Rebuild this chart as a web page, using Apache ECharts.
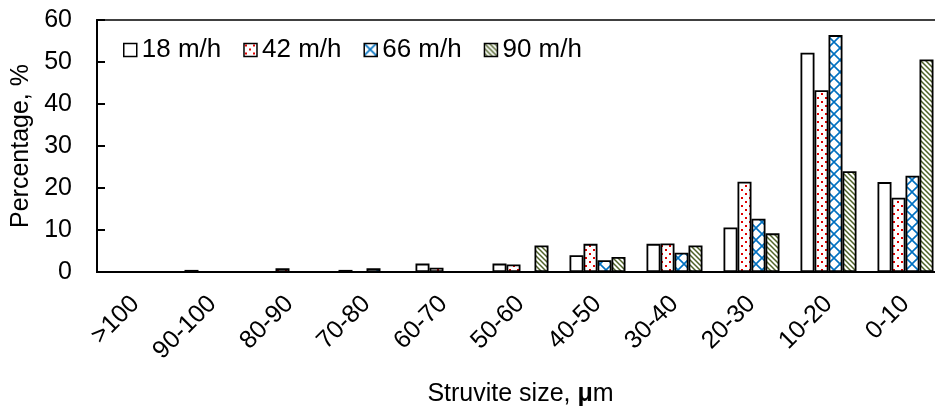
<!DOCTYPE html>
<html>
<head>
<meta charset="utf-8">
<script src="https://cdn.jsdelivr.net/npm/echarts@6/dist/echarts.min.js"></script>
<style>
  html, body { margin: 0; padding: 0; background: #fff; }
  #chart { width: 935px; height: 411px; }
</style>
</head>
<body>
<div id="chart"></div>
<script>
// Size classes of struvite crystals, coarse to fine
const categories = ['>100', '90-100', '80-90', '70-80', '60-70', '50-60', '40-50', '30-40', '20-30', '10-20', '0-10'];

// Percentage of crystals per size class at each upflow velocity
const seriesNames = ['18 m/h', '42 m/h', '66 m/h', '90 m/h'];
const v18 = [0, 0.5, 0, 0.5, 2.0, 2.0, 4.0, 6.7, 10.6, 52.2, 21.4];
const v42 = [0, 0, 0.9, 0, 1.0, 1.8, 6.7, 6.8, 21.5, 43.3, 17.7];
const v66 = [0, 0, 0, 0.9, 0, 0, 2.8, 4.6, 12.7, 56.4, 22.9];
const v90 = [0, 0, 0, 0, 0, 6.3, 3.6, 6.3, 9.2, 24.0, 50.6];

const yTicks = [0, 10, 20, 30, 40, 50, 60];

const FONT = '"Liberation Sans", Arial, sans-serif';

// Small repeating tiles used as hatch fills
function tile(size, draw) {
  const c = document.createElement('canvas');
  c.width = size; c.height = size;
  const g = c.getContext('2d');
  g.fillStyle = '#fff';
  g.fillRect(0, 0, size, size);
  draw(g, size);
  return { image: c, repeat: 'repeat' };
}

const dotFill = tile(8, (g) => {
  g.fillStyle = '#e00000';
  g.fillRect(1, 1, 2, 2);
  g.fillRect(5, 5, 2, 2);
});

const latticeFill = tile(12, (g, s) => {
  g.strokeStyle = '#0070c0';
  g.lineWidth = 1.6;
  g.beginPath();
  g.moveTo(0, 0); g.lineTo(s, s);
  g.moveTo(s, 0); g.lineTo(0, s);
  g.stroke();
});

const stripeFill = tile(5, (g, s) => {
  g.strokeStyle = '#4f6228';
  g.lineWidth = 1.5;
  g.beginPath();
  g.moveTo(-1, -1); g.lineTo(s + 1, s + 1);
  g.moveTo(-1, s - 1); g.lineTo(1, s + 1);
  g.moveTo(s - 1, -1); g.lineTo(s + 1, 1);
  g.stroke();
});

const fills = ['#ffffff', dotFill, latticeFill, stripeFill];
const values = [v18, v42, v66, v90];

const chart = echarts.init(document.getElementById('chart'), null, { renderer: 'canvas' });

chart.setOption({
  animation: false,
  backgroundColor: '#ffffff',
  textStyle: { fontFamily: FONT, color: '#000' },
  legend: {
    data: seriesNames,
    left: 118,
    top: 32,
    itemWidth: 13,
    itemHeight: 13,
    itemGap: 22,
    icon: 'rect',
    textStyle: { fontFamily: FONT, fontSize: 26, color: '#000' },
    itemStyle: { borderColor: '#000', borderWidth: 1.5 }
  },
  grid: {
    left: 97,
    right: -9,
    top: 20,
    bottom: 139,
    show: true,
    borderColor: '#404040',
    borderWidth: 2,
    containLabel: false,
    outerBoundsMode: 'none'
  },
  xAxis: {
    type: 'category',
    data: categories,
    axisLine: { lineStyle: { color: '#000', width: 2 } },
    axisTick: { show: false },
    axisLabel: {
      rotate: 45,
      margin: 28,
      fontSize: 25,
      fontFamily: FONT,
      color: '#000',
      interval: 0
    },
    name: '{n|Struvite size, }{mu|μ}{n|m}',
    nameLocation: 'middle',
    nameGap: 110,
    nameTextStyle: {
      rich: {
        n: { fontSize: 25, fontFamily: FONT, color: '#000' },
        mu: { fontSize: 25, fontFamily: FONT, color: '#000', fontWeight: 'bold' }
      }
    }
  },
  yAxis: {
    type: 'value',
    min: yTicks[0],
    max: yTicks[yTicks.length - 1],
    interval: yTicks[1] - yTicks[0],
    axisLine: { show: true, lineStyle: { color: '#000', width: 2 } },
    axisTick: { show: true, inside: true, length: 8, lineStyle: { color: '#000', width: 2 } },
    splitLine: { show: false },
    axisLabel: { fontSize: 25, fontFamily: FONT, color: '#000', margin: 25 },
    name: 'Percentage, %',
    nameLocation: 'middle',
    nameGap: 62,
    nameTextStyle: { fontSize: 25, fontFamily: FONT, color: '#000' }
  },
  series: seriesNames.map((name, i) => ({
    name: name,
    type: 'bar',
    data: values[i],
    barWidth: 14,
    barGap: '0%',
    itemStyle: {
      color: fills[i],
      borderColor: '#000',
      borderWidth: 1.8
    }
  }))
});
</script>
</body>
</html>
